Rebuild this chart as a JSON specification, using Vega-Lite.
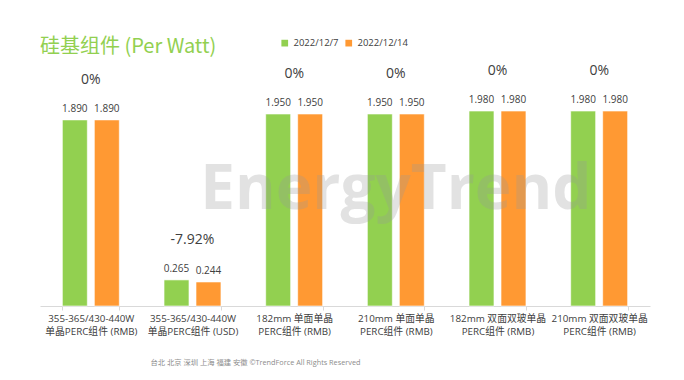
{
  "$schema": "https://vega.github.io/schema/vega-lite/v6.json",
  "width": 610,
  "height": 256,
  "autosize": {"type": "none"},
  "padding": {"left": 40, "top": 50, "right": 34, "bottom": 74},
  "background": "white",
  "config": {"view": {"stroke": null}, "font": "Open Sans, Noto Sans CJK SC"},
  "title": {"text": "硅基组件 (Per Watt)", "anchor": "start", "frame": "group", "color": "#92D050", "fontSize": 20, "fontWeight": "normal", "font": "Noto Sans CJK SC", "offset": -19},
  "datasets": {
    "bars": [
      {"cat": "355-365/430-440W|单晶PERC组件 (RMB)", "date": "2022/12/7", "value": 1.89},
      {"cat": "355-365/430-440W|单晶PERC组件 (RMB)", "date": "2022/12/14", "value": 1.89},
      {"cat": "355-365/430-440W|单晶PERC组件 (USD)", "date": "2022/12/7", "value": 0.265},
      {"cat": "355-365/430-440W|单晶PERC组件 (USD)", "date": "2022/12/14", "value": 0.244},
      {"cat": "182mm 单面单晶|PERC组件 (RMB)", "date": "2022/12/7", "value": 1.95},
      {"cat": "182mm 单面单晶|PERC组件 (RMB)", "date": "2022/12/14", "value": 1.95},
      {"cat": "210mm 单面单晶|PERC组件 (RMB)", "date": "2022/12/7", "value": 1.95},
      {"cat": "210mm 单面单晶|PERC组件 (RMB)", "date": "2022/12/14", "value": 1.95},
      {"cat": "182mm 双面双玻单晶|PERC组件 (RMB)", "date": "2022/12/7", "value": 1.98},
      {"cat": "182mm 双面双玻单晶|PERC组件 (RMB)", "date": "2022/12/14", "value": 1.98},
      {"cat": "210mm 双面双玻单晶|PERC组件 (RMB)", "date": "2022/12/7", "value": 1.98},
      {"cat": "210mm 双面双玻单晶|PERC组件 (RMB)", "date": "2022/12/14", "value": 1.98}
    ],
    "pct": [
      {"cat": "355-365/430-440W|单晶PERC组件 (RMB)", "pct": "0%", "top": 1.89},
      {"cat": "355-365/430-440W|单晶PERC组件 (USD)", "pct": "-7.92%", "top": 0.265},
      {"cat": "182mm 单面单晶|PERC组件 (RMB)", "pct": "0%", "top": 1.95},
      {"cat": "210mm 单面单晶|PERC组件 (RMB)", "pct": "0%", "top": 1.95},
      {"cat": "182mm 双面双玻单晶|PERC组件 (RMB)", "pct": "0%", "top": 1.98},
      {"cat": "210mm 双面双玻单晶|PERC组件 (RMB)", "pct": "0%", "top": 1.98}
    ]
  },
  "layer": [
    {
      "data": {"name": "bars"},
      "mark": {"type": "bar", "stroke": "white", "strokeWidth": 0.6},
      "encoding": {
        "x": {"field": "cat", "type": "nominal", "sort": null,
          "scale": {"paddingInner": 0.44, "paddingOuter": 0.22},
          "axis": {"title": "台北  北京  深圳  上海  福建  安徽      ©TrendForce All Rights Reserved", "titleAnchor": "start", "titleX": 110, "titleY": 56, "titleBaseline": "middle", "titleFontSize": 7.3, "titleFontWeight": "normal", "titleColor": "#8c8c8c", "titleFont": "Open Sans, Noto Sans CJK SC",
            "labelExpr": "split(datum.label, '|')", "labelAngle": 0, "labelFontSize": 9.8, "labelColor": "#404040", "labelLineHeight": 13, "labelPadding": 3, "labelLimit": 0, "domainColor": "#D9D9D9", "tickColor": "#D9D9D9", "tickSize": 4, "tickBand": "extent", "labelFont": "Open Sans, Noto Sans CJK SC"}},
        "xOffset": {"field": "date", "type": "nominal", "sort": null, "scale": {"paddingInner": 0.22, "paddingOuter": 0}},
        "y": {"field": "value", "type": "quantitative", "scale": {"domain": [0, 2.6]}, "axis": null},
        "color": {"field": "date", "type": "nominal", "sort": null,
          "scale": {"range": ["#92D050", "#FF9933"]},
          "legend": {"title": null, "orient": "none", "legendX": 240, "legendY": -12, "direction": "horizontal", "symbolType": "square", "symbolSize": 45, "labelFontSize": 9.5, "labelColor": "#404040", "columnPadding": 5, "labelOffset": 4, "symbolStrokeWidth": 0}}
      }
    },
    {
      "data": {"name": "bars"},
      "mark": {"type": "text", "baseline": "bottom", "dy": -6, "fontSize": 10, "color": "#404040"},
      "encoding": {
        "x": {"field": "cat", "type": "nominal", "sort": null},
        "xOffset": {"field": "date", "type": "nominal", "sort": null},
        "y": {"field": "value", "type": "quantitative"},
        "text": {"field": "value", "format": ".3f"}
      }
    },
    {
      "data": {"name": "pct"},
      "mark": {"type": "text", "baseline": "bottom", "dy": -33, "fontSize": 14, "color": "#404040"},
      "encoding": {
        "x": {"field": "cat", "type": "nominal", "sort": null},
        "y": {"field": "top", "type": "quantitative"},
        "text": {"field": "pct"}
      }
    },
    {
      "data": {"values": [{"w": "EnergyTrend"}]},
      "mark": {"type": "text", "fontSize": 62, "fontWeight": "bold", "color": "#999999", "opacity": 0.28, "baseline": "middle", "font": "Open Sans"},
      "encoding": {
        "x": {"datum": "210mm 单面单晶|PERC组件 (RMB)"},
        "y": {"datum": 1.18},
        "text": {"field": "w"}
      }
    }
  ]
}
